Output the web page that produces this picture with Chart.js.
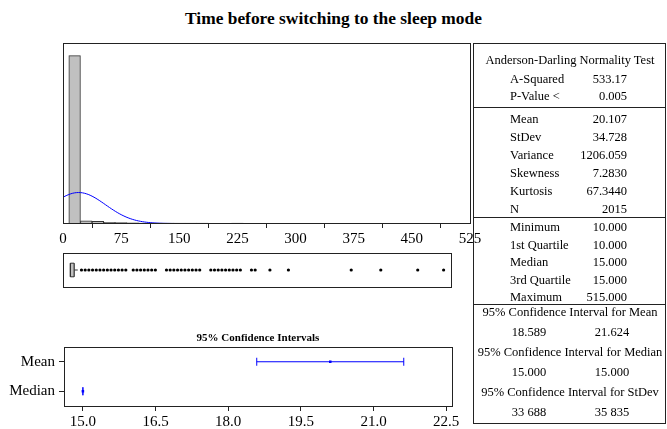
<!DOCTYPE html>
<html>
<head>
<meta charset="utf-8">
<script src="https://cdn.jsdelivr.net/npm/chart.js@4.4.1/dist/chart.umd.min.js"></script>
<style>
  html,body{margin:0;padding:0;background:#fff;}
  #wrap{position:relative;width:667px;height:429px;overflow:hidden;font-family:'Liberation Serif','Times New Roman',serif;color:#000;}
  canvas{position:absolute;left:0;top:0;}
  .t{position:absolute;white-space:nowrap;line-height:16px;height:16px;}
  #title{position:absolute;left:0;width:667px;top:7px;text-align:center;font-weight:bold;font-size:17.4px;line-height:22px;}
  #citl{position:absolute;left:64px;width:388px;top:330px;text-align:center;font-weight:bold;font-size:11px;line-height:14px;}
  #tbl{position:absolute;left:473px;top:43px;width:191px;height:379px;border:1px solid #222;}
  .hr{position:absolute;left:473px;width:193px;height:1px;background:#222;}
</style>
</head>
<body>
<div id="wrap">
  <div id="title">Time before switching to the sleep mode</div>
  <canvas id="hist" width="667" height="429"></canvas>
  <canvas id="box" width="667" height="429"></canvas>
  <canvas id="ci" width="667" height="429"></canvas>
  <div id="citl">95% Confidence Intervals</div>
  <div id="tbl"></div>
</div>
<script>
// ---------- data ----------
const TITLE = "Time before switching to the sleep mode";
const HIST_BINS = [15,30,45,60,75,90,105,120,135,150,165,180,195,210,225,240,255,270,285,300,315,330,345,360,375,390,405,420,435,450,465,480,495,510];
const HIST_COUNTS = [1880,30,24,14,10,7,6,6,4,5,4,4,3,3,4,3,2,0,1,1,0,0,0,0,0,1,0,0,1,0,0,1,0,1];
const HIST_TICKS = [0,75,150,225,300,375,450,525];
const N_OBS = 2015;
const MEAN = 20.107;
const STDEV = 34.728;
const BIN_WIDTH = 15;

const Q1 = 10, MEDIAN = 15, Q3 = 15, WHISK_LO = 10, WHISK_HI = 20;
const OUTLIERS = [25,30,35,40,45,50,55,60,65,70,75,80,85,
                  95,100,105,110,115,120,125,
                  140,145,150,155,160,165,170,175,180,185,
                  200,205,210,215,220,225,230,235,240,
                  255,260,280,305,390,430,480,515];

const CI_ROWS = ["Mean","Median"];
const CI_LOW = [18.589, 15.000];
const CI_HIGH = [21.624, 15.000];
const CI_POINT = [20.107, 15.000];
const CI_TICKS = [15.0,16.5,18.0,19.5,21.0,22.5];

const AD_LABELS = ["A-Squared","P-Value <"];
const AD_VALUES = ["533.17","0.005"];
const DESC_LABELS = ["Mean","StDev","Variance","Skewness","Kurtosis","N"];
const DESC_VALUES = ["20.107","34.728","1206.059","7.2830","67.3440","2015"];
const QUANT_LABELS = ["Minimum","1st Quartile","Median","3rd Quartile","Maximum"];
const QUANT_VALUES = ["10.000","10.000","15.000","15.000","515.000"];
const CI_HEADERS = ["95% Confidence Interval for Mean","95% Confidence Interval for Median","95% Confidence Interval for StDev"];
const CI_TABLE_LO = ["18.589","15.000","33 688"];
const CI_TABLE_HI = ["21.624","15.000","35 835"];

// ---------- table ----------
const wrap = document.getElementById('wrap');
function txt(s, x, y, align, size){
  const d = document.createElement('div');
  d.className='t'; d.textContent=s;
  d.style.fontSize=(size||12.5)+'px';
  d.style.top=(y-8)+'px';
  if(align==='left'){ d.style.left=x+'px'; }
  else if(align==='right'){ d.style.right=(667-x)+'px'; }
  else { d.style.left=(x-150)+'px'; d.style.width='300px'; d.style.textAlign='center'; }
  wrap.appendChild(d);
}
function hr(y){ const d=document.createElement('div'); d.className='hr'; d.style.top=y+'px'; wrap.appendChild(d); }
const LX = 510, RX = 627, CX = 570;
txt("Anderson-Darling Normality Test", CX, 60, 'center');
AD_LABELS.forEach((l,i)=>{ txt(l, LX, 79+17*i, 'left'); txt(AD_VALUES[i], RX, 79+17*i, 'right'); });
hr(107);
DESC_LABELS.forEach((l,i)=>{ txt(l, LX, 119+18*i, 'left'); txt(DESC_VALUES[i], RX, 119+18*i, 'right'); });
hr(217);
QUANT_LABELS.forEach((l,i)=>{ txt(l, LX, 227+17.5*i, 'left'); txt(QUANT_VALUES[i], RX, 227+17.5*i, 'right'); });
hr(304);
CI_HEADERS.forEach((h,i)=>{
  const y0 = 312 + 40*i;
  txt(h, CX, y0, 'center');
  txt(CI_TABLE_LO[i], 529, y0+20, 'center');
  txt(CI_TABLE_HI[i], 612, y0+20, 'center');
});

// ---------- charts ----------
Chart.defaults.font.family = "'Liberation Serif','Times New Roman',serif";
Chart.defaults.font.size = 14;
Chart.defaults.color = '#000';
const frame = {
  id:'frame',
  afterDraw(chart){
    const a = chart.chartArea, c = chart.ctx;
    c.save(); c.strokeStyle='#222'; c.lineWidth=1;
    c.strokeRect(Math.round(a.left)+0.5, Math.round(a.top)+0.5, Math.round(a.right-a.left), Math.round(a.bottom-a.top));
    c.restore();
  }
};
const base = {responsive:false, animation:false, devicePixelRatio:1,
  plugins:{legend:{display:false}, tooltip:{enabled:false}}};

// Histogram
const curve = [];
for(let x=0; x<=525; x+=2.5){
  const z=(x-MEAN)/STDEV;
  curve.push({x, y: N_OBS*BIN_WIDTH*Math.exp(-0.5*z*z)/(STDEV*Math.sqrt(2*Math.PI))});
}
new Chart(document.getElementById('hist'), {
  type:'bar',
  data:{datasets:[
    {type:'line', data:curve, borderColor:'#0000ff', borderWidth:1, pointRadius:0, order:0},
    {type:'bar', data:HIST_BINS.map((b,i)=>({x:b,y:HIST_COUNTS[i]})), backgroundColor:'#c0c0c0',
     borderColor:'#333', borderWidth:1, barPercentage:1, categoryPercentage:1, order:1}
  ]},
  options:{...base,
    layout:{padding:{left:63, right:197, top:43, bottom:429-223-26}},
    scales:{
      x:{type:'linear', min:0, max:525, offset:false,
         afterBuildTicks(s){ s.ticks = HIST_TICKS.map(v=>({value:v})); },
         afterFit(s){ s.height = 26; },
         ticks:{padding:2, maxRotation:0, autoSkip:false, font:{size:15}},
         grid:{drawOnChartArea:false, drawTicks:true, tickLength:5, color:'#222'},
         border:{display:true, color:'#222'}},
      y:{display:false, min:6, max:N_OBS+6}
    }
  },
  plugins:[frame]
});

// Boxplot
const yB = 0.5, hB = 0.2;
new Chart(document.getElementById('box'), {
  type:'scatter',
  data:{datasets:[
    {data:[{x:Q1,y:yB-hB},{x:Q3,y:yB-hB},{x:Q3,y:yB+hB},{x:Q1,y:yB+hB},{x:Q1,y:yB-hB}],
     showLine:true, fill:'shape', backgroundColor:'#c0c0c0', borderColor:'#333', borderWidth:1, pointRadius:0},
    {data:[{x:MEDIAN,y:yB-hB},{x:MEDIAN,y:yB+hB}], showLine:true, borderColor:'#333', borderWidth:1, pointRadius:0},
    {data:[{x:Q3,y:yB},{x:WHISK_HI,y:yB}], showLine:true, borderColor:'#333', borderWidth:1, pointRadius:0},
    {data:[{x:WHISK_LO,y:yB},{x:Q1,y:yB}], showLine:true, borderColor:'#333', borderWidth:1, pointRadius:0},
    {data:OUTLIERS.map(v=>({x:v,y:yB})), pointRadius:1.6, backgroundColor:'#000', borderColor:'#000', borderWidth:0}
  ]},
  options:{...base,
    layout:{padding:{left:63, right:216, top:253, bottom:142}},
    scales:{x:{display:false, min:0, max:525}, y:{display:false, min:0, max:1}}
  },
  plugins:[frame]
});

// Confidence intervals
const ciSets = [];
CI_ROWS.forEach((r,i)=>{
  ciSets.push({data:[{x:CI_LOW[i],y:r},{x:CI_HIGH[i],y:r}], borderColor:'#0000ff', borderWidth:1,
    pointStyle:'line', rotation:90, pointRadius:4, pointBorderColor:'#0000ff', pointBorderWidth:1});
  ciSets.push({data:[{x:CI_POINT[i],y:r}], showLine:false, pointStyle:'rect', pointRadius:1.8,
    backgroundColor:'#0000ff', borderColor:'#0000ff', borderWidth:0});
});
new Chart(document.getElementById('ci'), {
  type:'line',
  data:{datasets:ciSets},
  options:{...base,
    layout:{padding:{left:0, right:215, top:347, bottom:429-406-24}},
    scales:{
      x:{type:'linear', min:14.61, max:22.62,
         afterBuildTicks(s){ s.ticks = CI_TICKS.map(v=>({value:v})); },
         afterFit(s){ s.height = 24; },
         ticks:{padding:2, maxRotation:0, autoSkip:false, font:{size:15}, callback:v=>v.toFixed(1)},
         grid:{drawOnChartArea:false, tickLength:5, color:'#222'},
         border:{display:true, color:'#222'}},
      y:{type:'category', labels:CI_ROWS, offset:true,
         afterFit(s){ s.width = 64; },
         ticks:{padding:4, font:{size:15}},
         grid:{drawOnChartArea:false, tickLength:5, color:'#222', offset:false},
         border:{display:true, color:'#222'}}
    }
  },
  plugins:[frame]
});
</script>
</body>
</html>
